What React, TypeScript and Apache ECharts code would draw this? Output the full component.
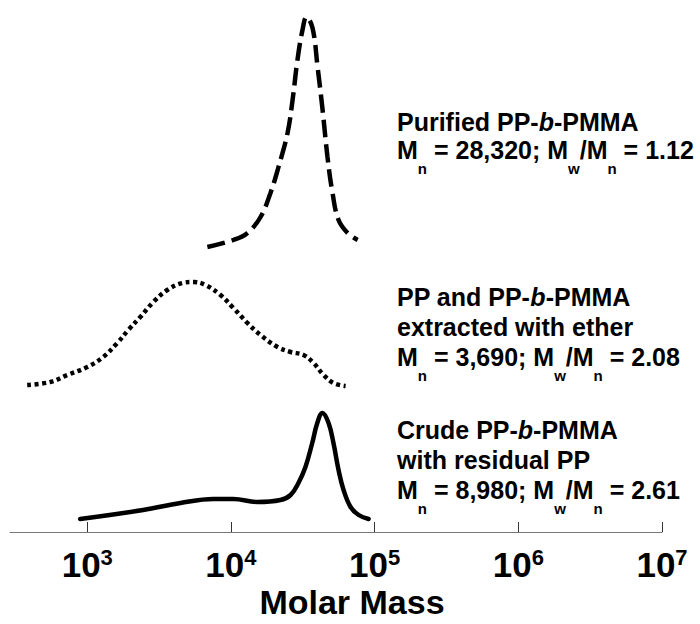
import React, { useEffect, useRef } from "react";
import * as echarts from "echarts";

// Molar mass (g/mol) and stacked trace height for each GPC trace.
const crudeMass = [893, 2450, 4450, 7550, 10400, 15300, 22100, 26000, 29500, 33000, 36800, 39900, 43300, 47800, 51700, 56100, 60800, 68000, 77500, 90800];
const crudeHeight = [13, 22, 29, 33, 33, 30, 32, 37, 49, 65, 89, 109, 119, 109, 89, 62, 42, 25, 17, 13];

const etherMass = [382, 552, 726, 1000, 1291, 1618, 1932, 2339, 2884, 3606, 4592, 5483, 6637, 8453, 10400, 13030, 16070, 21090, 26000, 31990, 37580, 44160, 51760, 62810];
const etherHeight = [147, 150, 157, 165, 175, 189, 202, 215, 230, 242, 249, 250, 247, 237, 224, 209, 197, 185, 180, 177, 169, 157, 149, 146];

const purifiedMass = [6855, 10400, 13030, 16070, 18840, 21430, 24770, 26850, 29040, 31480, 33570, 36980, 40090, 43450, 46990, 50930, 56100, 64860, 76210];
const purifiedHeight = [285, 292, 299, 315, 339, 365, 399, 432, 472, 502, 515, 504, 465, 422, 375, 339, 312, 299, 292];

const tickValues = [1e3, 1e4, 1e5, 1e6, 1e7];

const xTitle = "Molar Mass";

// Annotation lines in rich-text markup.
const purifiedLines = [
  "{t|Purified PP-}{i|b}{t|-PMMA}",
  "{t|M}{s|n}{t| = 28,320; M}{s|w}{t|/M}{s|n}{t| = 1.12}",
];
const etherLines = [
  "{t|PP and PP-}{i|b}{t|-PMMA}",
  "{t|extracted with ether}",
  "{t|M}{s|n}{t| = 3,690; M}{s|w}{t|/M}{s|n}{t| = 2.08}",
];
const crudeLines = [
  "{t|Crude PP-}{i|b}{t|-PMMA}",
  "{t|with residual PP}",
  "{t|M}{s|n}{t| = 8,980; M}{s|w}{t|/M}{s|n}{t| = 2.61}",
];

const FONT = "'Liberation Sans', Arial, Helvetica, sans-serif";
const TEXT_SIZE = 25;

const pairs = (xs: number[], ys: number[]) => xs.map((x, i) => [x, ys[i]]);

// Main tokens sit at the top of the line; subscripts sit at the bottom of a taller box,
// which drops them below the baseline.
const labelRich = {
  t: { fontFamily: FONT, fontWeight: "bold" as const, fontSize: TEXT_SIZE, lineHeight: 20, verticalAlign: "top" as const, color: "#000" },
  i: { fontFamily: FONT, fontWeight: "bold" as const, fontStyle: "italic" as const, fontSize: TEXT_SIZE, lineHeight: 20, verticalAlign: "top" as const, color: "#000" },
  s: { fontFamily: FONT, fontWeight: "bold" as const, fontSize: 15, lineHeight: 38, verticalAlign: "bottom" as const, color: "#000" },
};
const BASELINE_OFFSET = 22.5;

// One text element per line, placed by its baseline.
function annotation(x: number, firstBaseline: number, pitch: number, lines: string[]) {
  return lines.map((text, k) => ({
    type: "text",
    x,
    y: firstBaseline + k * pitch - BASELINE_OFFSET,
    style: {
      text,
      rich: labelRich,
      verticalAlign: "top",
      align: "left",
      fill: "#000",
    },
  }));
}

export default function App() {
  const ref = useRef<HTMLDivElement>(null);

  useEffect(() => {
    if (!ref.current) return;
    const chart = echarts.init(ref.current, null, { renderer: "svg" });
    chart.setOption({
      animation: false,
      backgroundColor: "#fff",
      grid: { left: 10, right: 38, top: 0, bottom: 92, containLabel: false },
      xAxis: {
        type: "log",
        logBase: 10,
        min: 290,
        max: 1e7,
        axisLine: { show: true, lineStyle: { color: "#777", width: 1 } },
        axisTick: {
          show: true,
          inside: true,
          length: 10,
          customValues: tickValues,
          lineStyle: { color: "#333", width: 1 },
        },
        splitLine: { show: false },
        minorTick: { show: false },
        axisLabel: {
          customValues: tickValues,
          margin: 14,
          formatter: (v: number) => `{b|10}{s|${Math.round(Math.log10(v))}}`,
          rich: {
            b: { fontFamily: FONT, fontWeight: "bold", fontSize: 35, lineHeight: 36, verticalAlign: "bottom", color: "#000" },
            s: { fontFamily: FONT, fontWeight: "bold", fontSize: 22, lineHeight: 12, verticalAlign: "top", color: "#000" },
          },
        },
      },
      yAxis: {
        type: "value",
        min: 0,
        max: 532,
        show: false,
      },
      series: [
        {
          name: "Crude PP-b-PMMA",
          type: "line",
          data: pairs(crudeMass, crudeHeight),
          smooth: 0.4,
          showSymbol: false,
          lineStyle: { color: "#000", width: 4.5, cap: "round" },
        },
        {
          name: "PP and PP-b-PMMA extracted with ether",
          type: "line",
          data: pairs(etherMass, etherHeight),
          smooth: 0.4,
          showSymbol: false,
          lineStyle: { color: "#000", width: 4.5, type: [4, 3.5], cap: "butt" },
        },
        {
          name: "Purified PP-b-PMMA",
          type: "line",
          data: pairs(purifiedMass, purifiedHeight),
          smooth: 0.4,
          showSymbol: false,
          lineStyle: { color: "#000", width: 4.5, type: [18, 7], cap: "butt" },
        },
      ],
      graphic: [
        ...annotation(397, 132, 28, purifiedLines),
        ...annotation(397, 307, 30, etherLines),
        ...annotation(397, 440, 30, crudeLines),
        {
          type: "text",
          x: 352,
          y: 602,
          style: {
            text: xTitle,
            fontFamily: FONT,
            fontWeight: "bold",
            fontSize: 34,
            fill: "#000",
            align: "center",
            verticalAlign: "middle",
          },
        },
      ],
    });
    return () => chart.dispose();
  }, []);

  return (
    <div
      ref={ref}
      style={{ position: "absolute", left: 0, top: 0, width: 700, height: 624 }}
    />
  );
}
